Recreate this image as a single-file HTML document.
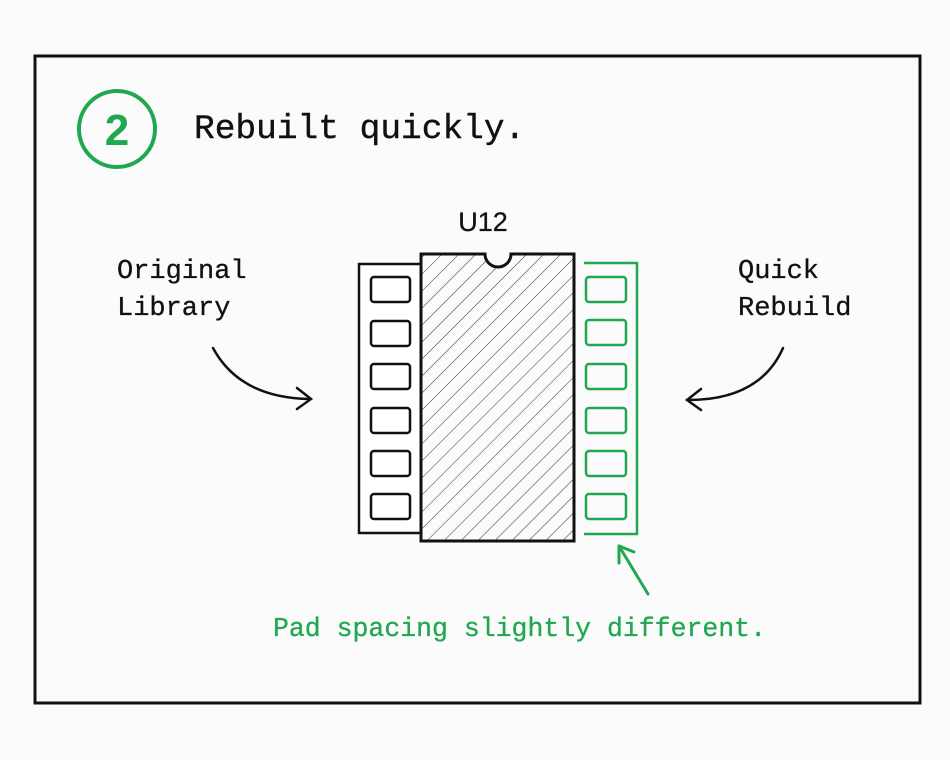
<!DOCTYPE html>
<html><head><meta charset="utf-8"><style>
body{margin:0;background:#fbfbfb;}
svg{display:block}
.m{font-family:"Liberation Mono","DejaVu Sans Mono",monospace;}
</style></head><body>
<svg width="950" height="760" viewBox="0 0 950 760" xmlns="http://www.w3.org/2000/svg">
<defs>
<pattern id="h" patternUnits="userSpaceOnUse" width="12" height="12" patternTransform="rotate(45)">
<line x1="0" y1="0" x2="0" y2="12" stroke="#333" stroke-width="1"/>
</pattern>
</defs>
<rect x="35" y="56" width="885" height="647" fill="#fbfbfb" stroke="#111" stroke-width="3"/>
<circle cx="117" cy="129" r="38" fill="none" stroke="#1fa84f" stroke-width="4"/>
<text x="117" y="145" text-anchor="middle" font-family="Liberation Sans,sans-serif" font-size="44" font-weight="bold" fill="#1fa84f">2</text>
<text x="194" y="138" class="m" font-size="34.5" fill="#111" stroke="#111" stroke-width="0.4">Rebuilt quickly.</text>
<text x="483" y="231" text-anchor="middle" font-family="Liberation Sans,sans-serif" font-size="27" fill="#111" stroke="#111" stroke-width="0.3">U12</text>
<text class="m" font-size="27" fill="#111" stroke="#111" stroke-width="0.3"><tspan x="117" y="278">Original</tspan><tspan x="117" y="315">Library</tspan></text>
<text class="m" font-size="27" fill="#111" stroke="#111" stroke-width="0.3"><tspan x="738" y="278">Quick</tspan><tspan x="738" y="315">Rebuild</tspan></text>
<rect x="359" y="264" width="62" height="269" fill="#fff" stroke="#111" stroke-width="2.5"/>
<g fill="none" stroke="#111" stroke-width="2.5">
<rect x="371" y="277" width="39" height="25" rx="3"/>
<rect x="371" y="321" width="39" height="25" rx="3"/>
<rect x="371" y="364" width="39" height="25" rx="3"/>
<rect x="371" y="408" width="39" height="25" rx="3"/>
<rect x="371" y="451" width="39" height="25" rx="3"/>
<rect x="371" y="494" width="39" height="25" rx="3"/>
</g>
<path d="M421 254 H485 A13 13 0 0 0 511 254 H574 V541 H421 Z" fill="url(#h)" stroke="#111" stroke-width="3"/>
<path d="M584 263 H637 V534 H584" fill="none" stroke="#1fa84f" stroke-width="2.5"/>
<g fill="none" stroke="#1fa84f" stroke-width="2.5">
<rect x="586" y="277" width="40" height="25" rx="3"/>
<rect x="586" y="320" width="40" height="25" rx="3"/>
<rect x="586" y="364" width="40" height="25" rx="3"/>
<rect x="586" y="408" width="40" height="25" rx="3"/>
<rect x="586" y="451" width="40" height="25" rx="3"/>
<rect x="586" y="494" width="40" height="25" rx="3"/>
</g>
<g fill="none" stroke="#111" stroke-width="2.5" stroke-linecap="round">
<path d="M213 348 Q240 398 310 399"/>
<path d="M297 388 L311 399 L297 409"/>
<path d="M783 348 Q760 400 688 400"/>
<path d="M701 389 L687 400 L701 410"/>
</g>
<g fill="none" stroke="#1fa84f" stroke-width="3" stroke-linecap="round">
<path d="M648 594 L619 546"/>
<path d="M619 546 L619 563 M619 546 L634 552"/>
</g>
<text x="273" y="636" class="m" font-size="26.5" fill="#1fa84f" stroke="#1fa84f" stroke-width="0.3">Pad spacing slightly different.</text>
</svg>
</body></html>
